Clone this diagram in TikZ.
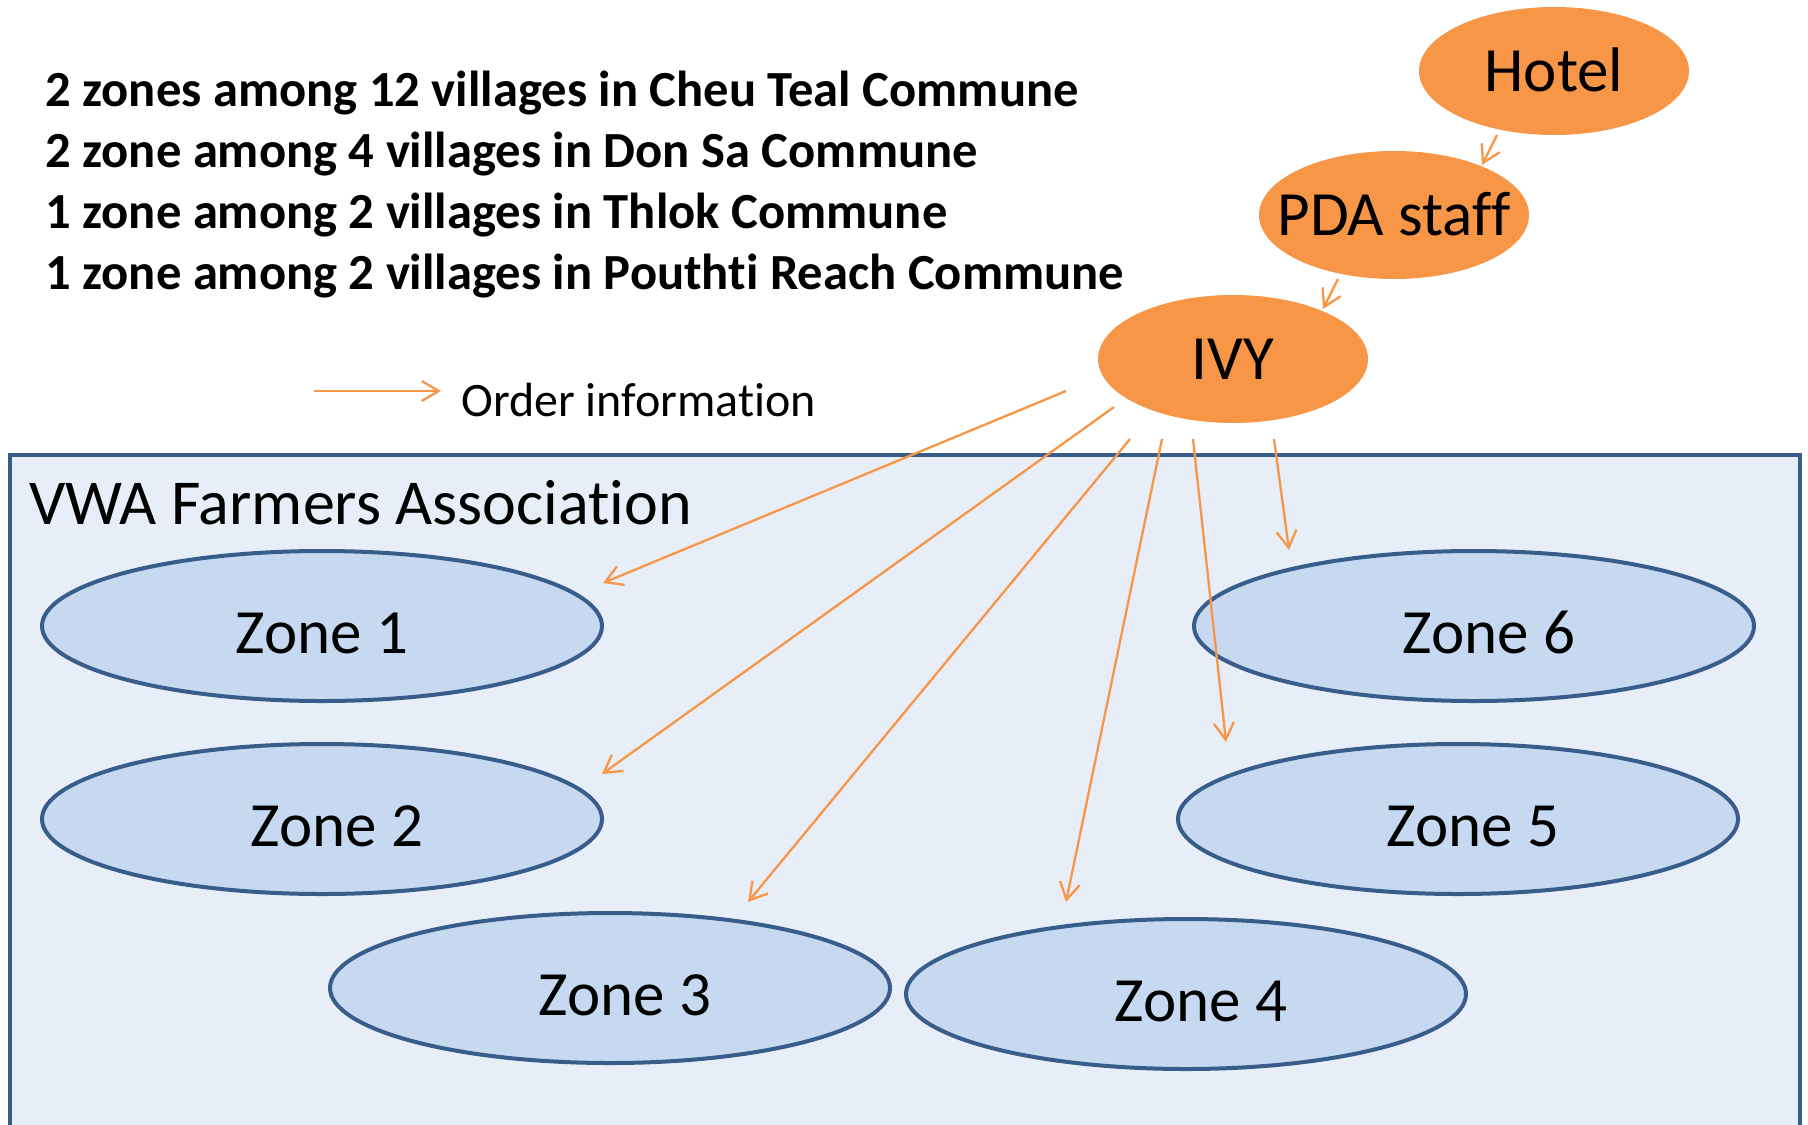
\documentclass[tikz,border=0pt]{standalone}
\usepackage{fontspec}
\setmainfont[Ligatures={NoCommon}]{Carlito}
\usetikzlibrary{shapes.geometric,arrows.meta,calc}
\definecolor{orng}{HTML}{F79646}
\definecolor{zonefill}{HTML}{C6D9F1}
\definecolor{zoneline}{HTML}{385D8A}
\definecolor{boxfill}{HTML}{E7EEF7}
\begin{document}
\begin{tikzpicture}[x=0.5pt,y=-0.5pt,
  actor/.style={ellipse, fill=orng, inner sep=0pt, minimum width=135pt, minimum height=64pt,
    text height=20.5pt, text depth=0pt, font=\fontsize{31.5}{36}\selectfont},
  zone/.style={ellipse, draw=zoneline, line width=2pt, fill=zonefill, inner sep=0pt,
    minimum width=280pt, minimum height=75pt, text height=27pt, text depth=0pt,
    font=\fontsize{31.5}{36}\selectfont},
  order/.style={draw=orng, line width=1.15pt, -{Straight Barb[length=8.5pt,width=10pt]}},
  listtext/.style={anchor=base west, inner sep=0pt, font=\fontsize{25.3}{30}\selectfont\bfseries},
  plain/.style={anchor=base west, inner sep=0pt},
]
\useasboundingbox (0,0) rectangle (1808,1124);

% association box
\draw[draw=zoneline, line width=1.75pt, fill=boxfill] (10,455) rectangle (1800,1160);
\node[plain, font=\fontsize{32}{36}\selectfont] (vwa) at (29,524) {VWA Farmers Association};

% text list
\node[listtext] (l1) at (45,106) {2 zones among 12 villages in Cheu Teal Commune};
\node[listtext] (l2) at (45,167) {2 zone among 4 villages in Don Sa Commune};
\node[listtext] (l3) at (45,228) {1 zone among 2 villages in Thlok Commune};
\node[listtext] (l4) at (45,289) {1 zone among 2 villages in Pouthti Reach Commune};

% legend
\coordinate (lgs) at (314,391);
\coordinate (lge) at (441,391);
\draw[order] (lgs) -- (lge);
\node[plain, font=\fontsize{24}{28}\selectfont] (lgt) at (461,416) {Order information};

% actors
\node[actor] (hotel) at (1554,71) {\makebox[0pt]{Hotel}};
\node[actor] (pda) at (1394,215) {\makebox[0pt]{PDA staff}};
\node[actor] (ivy) at (1233,359) {\makebox[0pt]{IVY}};

% zones
\node[zone] (z1) at (322,626) {Zone 1};
\node[zone] (z2) at (322,819) {\hspace*{15pt}Zone 2};
\node[zone] (z3) at (610,988) {\hspace*{15pt}Zone 3};
\node[zone] (z4) at (1186,994) {\hspace*{15pt}Zone 4};
\node[zone] (z5) at (1458,819) {\hspace*{15pt}Zone 5};
\node[zone] (z6) at (1474,626) {\hspace*{15pt}Zone 6};

% connector end points
\coordinate (hs) at (1497,135);  \coordinate (pe) at (1482,165);
\coordinate (ps) at (1338,279);  \coordinate (ie) at (1323,309);
\coordinate (s1) at (1066,391);  \coordinate (e1) at (603,583);
\coordinate (s2) at (1114,407);  \coordinate (e2) at (602,774);
\coordinate (s3) at (1130,439);  \coordinate (e3) at (748,902);
\coordinate (s4) at (1162,439);  \coordinate (e4) at (1066,902);
\coordinate (s5) at (1193,439);  \coordinate (e5) at (1226,742);
\coordinate (s6) at (1274,439);  \coordinate (e6) at (1289,550);

\draw[order] (hs) -- (pe);
\draw[order] (ps) -- (ie);
\draw[order] (s1) -- (e1);
\draw[order] (s2) -- (e2);
\draw[order] (s3) -- (e3);
\draw[order] (s4) -- (e4);
\draw[order] (s5) -- (e5);
\draw[order] (s6) -- (e6);
\end{tikzpicture}
\end{document}
